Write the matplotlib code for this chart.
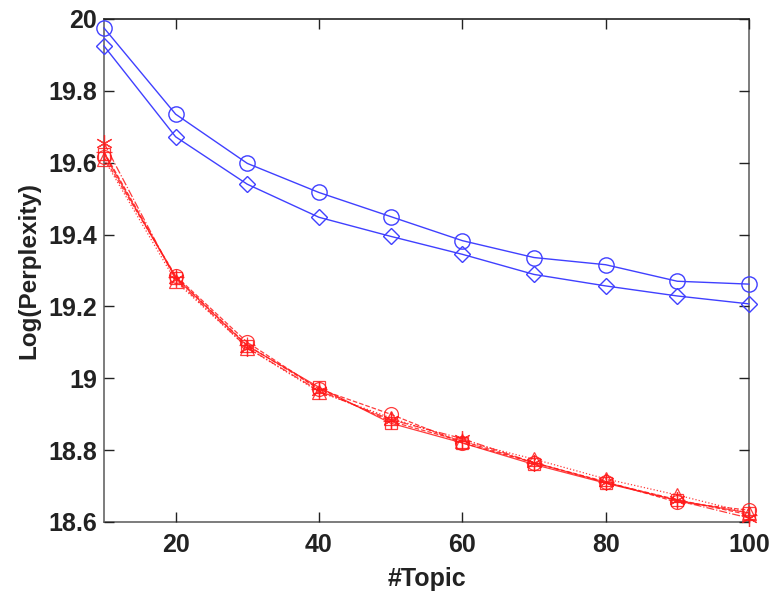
import matplotlib
matplotlib.use('Agg')
import matplotlib.pyplot as plt

plt.rcParams['font.family'] = ['Liberation Sans', 'DejaVu Sans']

topics = [10, 20, 30, 40, 50, 60, 70, 80, 90, 100]

# baseline models (blue)
base_circle = [19.975, 19.735, 19.598, 19.517, 19.450, 19.383, 19.336, 19.316, 19.270, 19.262]
base_diamond = [19.925, 19.672, 19.540, 19.448, 19.395, 19.345, 19.289, 19.257, 19.229, 19.207]

# proposed variants (red)
red_star = [19.655, 19.275, 19.085, 18.965, 18.885, 18.832, 18.765, 18.710, 18.660, 18.611]
red_circle = [19.615, 19.285, 19.100, 18.970, 18.900, 18.820, 18.765, 18.712, 18.655, 18.633]
red_square = [19.625, 19.280, 19.090, 18.975, 18.875, 18.820, 18.760, 18.708, 18.660, 18.625]
red_triangle = [19.610, 19.270, 19.085, 18.962, 18.890, 18.825, 18.775, 18.720, 18.675, 18.625]
red_plus = [19.630, 19.282, 19.092, 18.970, 18.880, 18.825, 18.765, 18.710, 18.662, 18.620]

fig = plt.figure(figsize=(7.73, 5.96), dpi=100)
ax = fig.add_axes([0.1345, 0.1242, 0.8344, 0.844])

blue = (0.25, 0.25, 1.0)
ax.plot(topics, base_circle, '-', color=blue, lw=1.0, marker='o', ms=11,
        mfc='none', mec=blue, mew=1.0, clip_on=False)
ax.plot(topics, base_diamond, '-', color=blue, lw=1.0, marker='D', ms=8,
        mfc='none', mec=blue, mew=1.0, clip_on=False)

red = (1.0, 0.1, 0.1)
asterisk = (6, 2, 0)
for ys, mk, ls, ms in [(red_star, asterisk, '-.', 12), (red_circle, 'o', '--', 10),
                       (red_square, 's', '-', 9), (red_triangle, '^', ':', 10),
                       (red_plus, '+', '--', 11)]:
    ax.plot(topics, ys, linestyle=ls, color=red, lw=0.9, alpha=0.85,
            marker=mk, ms=ms, mfc='none', mec=red, mew=0.9, clip_on=False)

ax.set_xlim(10, 100)
ax.set_ylim(18.6, 20)
ax.set_xticks([20, 40, 60, 80, 100])
ax.set_yticks([18.6, 18.8, 19, 19.2, 19.4, 19.6, 19.8, 20])
ax.set_yticklabels(['18.6', '18.8', '19', '19.2', '19.4', '19.6', '19.8', '20'])
ax.tick_params(direction='in', length=7, width=1.0, top=True, right=True,
               labelsize=18, colors='#222222')
ax.tick_params(axis='x', pad=8)
ax.tick_params(axis='y', pad=5)
for lab in ax.get_xticklabels() + ax.get_yticklabels():
    lab.set_fontweight('bold')
for sp in ax.spines.values():
    sp.set_color('#666666')
    sp.set_linewidth(1.2)
    sp.set_zorder(0)
ax.spines['top'].set_color('#222222')

ax.set_xlabel('#Topic', fontsize=18, fontweight='bold', labelpad=7, color='#222222')
ax.set_ylabel('Log(Perplexity)', fontsize=17.5, fontweight='bold', labelpad=6, color='#222222')

fig.savefig('out.png', dpi=100)
